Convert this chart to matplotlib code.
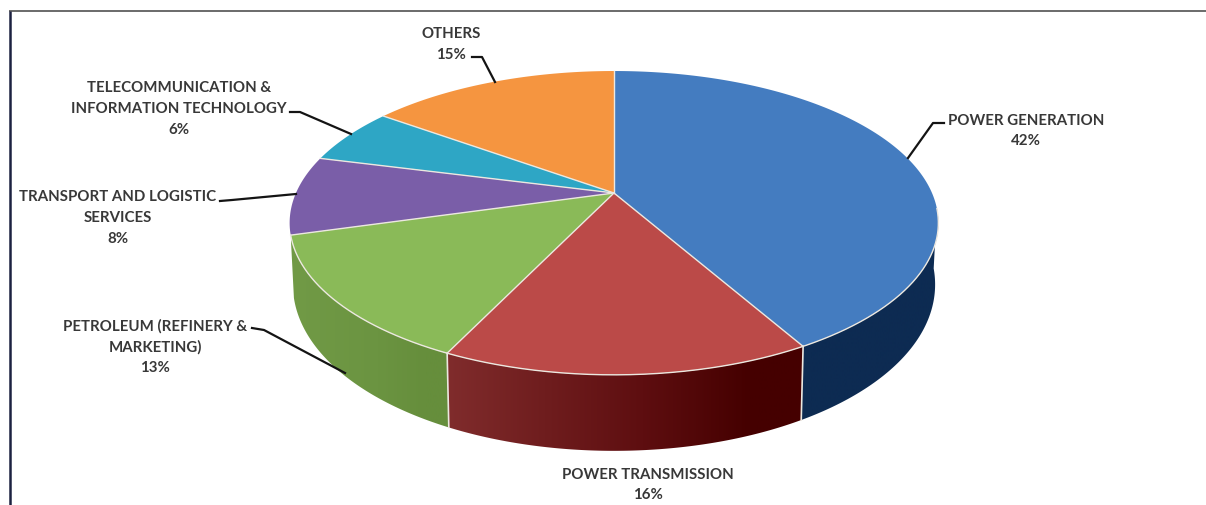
import numpy as np
import matplotlib
matplotlib.use("Agg")
import matplotlib.pyplot as plt
from matplotlib.colors import to_rgb
from matplotlib.patches import Polygon

# data
categories = ["POWER GENERATION", "POWER TRANSMISSION", "PETROLEUM (REFINERY &\nMARKETING)",
              "TRANSPORT AND LOGISTIC\nSERVICES", "TELECOMMUNICATION &\nINFORMATION TECHNOLOGY", "OTHERS"]
percent_labels = ["42%", "16%", "13%", "8%", "6%", "15%"]
shares = [41.8, 15.3, 13.5, 8.4, 6.0, 15.0]

# style
top_colors = ["#447cc0", "#bb4a48", "#8aba58", "#7a5ea8", "#2ea6c5", "#f59540"]
# wall gradients (left, middle, right) for the three wedges with a visible wall
wall_left = ["#0d2b52", "#802c2c", "#719a46"]
wall_mid = ["#0d2b52", "#5e0e10", "#6b9441"]
wall_right = ["#0d2b52", "#450000", "#668e3c"]

# projection of the tilted pie onto the canvas
CX, R, APEX_Y, KP, BP = 614.0, 318.0, 194.0, 0.197, -107.8


def top_xy(theta):
    s, c = np.sin(theta), np.cos(theta)
    den = 1 + KP * c
    return CX + R * s / den, (APEX_Y + BP * c) / den


def bottom_xy(theta):
    x, y = top_xy(theta)
    return CX + (x - CX) * 0.99, y + 58 - 18 * np.cos(theta)


fig = plt.figure(figsize=(12.06, 5.06), dpi=100)
ax = fig.add_axes([0, 0, 1, 1])
ax.axis("off")

# frame
ax.plot([9, 1206], [12, 12], color="#6a6a6a", lw=1.4, solid_capstyle="butt")
ax.plot([10, 10], [12, 506], color="#1c2140", lw=1.8, solid_capstyle="butt")

fractions = np.cumsum([0] + shares) / sum(shares) * 2 * np.pi
rim = "#ece8e0"
wall_start = np.radians(96)

# walls with a horizontal gradient
for i in range(len(wall_left)):
    lo, hi = max(fractions[i], wall_start), fractions[i + 1]
    t = np.linspace(lo, hi, 200)
    xa, ya = top_xy(t)
    xb, yb = bottom_xy(t)
    poly = Polygon(np.c_[np.r_[xa, xb[::-1]], np.r_[ya, yb[::-1]]],
                   facecolor="none", edgecolor="none", zorder=2)
    ax.add_patch(poly)
    xl, xr = min(xa.min(), xb.min()), max(xa.max(), xb.max())
    u = np.linspace(0, 1, 256)
    c0, c1, c2 = (np.array(to_rgb(c)) for c in (wall_left[i], wall_mid[i], wall_right[i]))
    grad = np.array([c0 + (c1 - c0) * v / 0.55 if v < 0.55
                     else c1 + (c2 - c1) * min((v - 0.55) / 0.3, 1) for v in u])[None, :, :]
    im = ax.imshow(grad, extent=(xl, xr, 506, 0), aspect="auto", zorder=2, interpolation="bilinear")
    im.set_clip_path(poly)

ax.set_xlim(0, 1206)
ax.set_ylim(506, 0)

# top face
for i in range(len(shares)):
    t = np.linspace(fractions[i], fractions[i + 1], 200)
    x, y = top_xy(t)
    ax.add_patch(Polygon(np.c_[np.r_[CX, x], np.r_[APEX_Y, y]],
                         facecolor=top_colors[i], edgecolor="none", zorder=3))

# light seams
for a in fractions[:-1]:
    x, y = top_xy(a)
    ax.plot([CX, x], [APEX_Y, y], color=rim, lw=1.0, zorder=4)
    if np.radians(100) < a < np.radians(250):
        xb, yb = bottom_xy(a)
        ax.plot([x, xb], [y, yb], color=rim, lw=1.2, zorder=4)
t = np.linspace(wall_start, fractions[3], 400)
ax.plot(*top_xy(t), color=rim, lw=1.0, zorder=4)

# leader lines
leaders = [
    [(908, 159), (933, 124), (944, 124)],
    [(472, 58), (482, 58), (495, 83)],
    [(290, 113), (300, 113), (351, 135)],
    [(220, 202), (232, 201), (296, 195)],
    [(252, 329), (264, 331), (345, 374)],
]
for pts in leaders:
    xs, ys = zip(*pts)
    ax.plot(xs, ys, color="#141414", lw=1.6, zorder=5, solid_joinstyle="round")

# labels
label_pos = [(1026, 131), (648, 485), (155, 347), (118, 218), (179, 109), (451, 44.5)]
for name, pct, (lx, ly) in zip(categories, percent_labels, label_pos):
    ax.text(lx, ly, f"{name}\n{pct}", ha="center", va="center", multialignment="center",
            family="Lato", weight="bold", fontsize=10.8, color="#383838", linespacing=1.6, zorder=6)

fig.savefig("out.png", dpi=100)
